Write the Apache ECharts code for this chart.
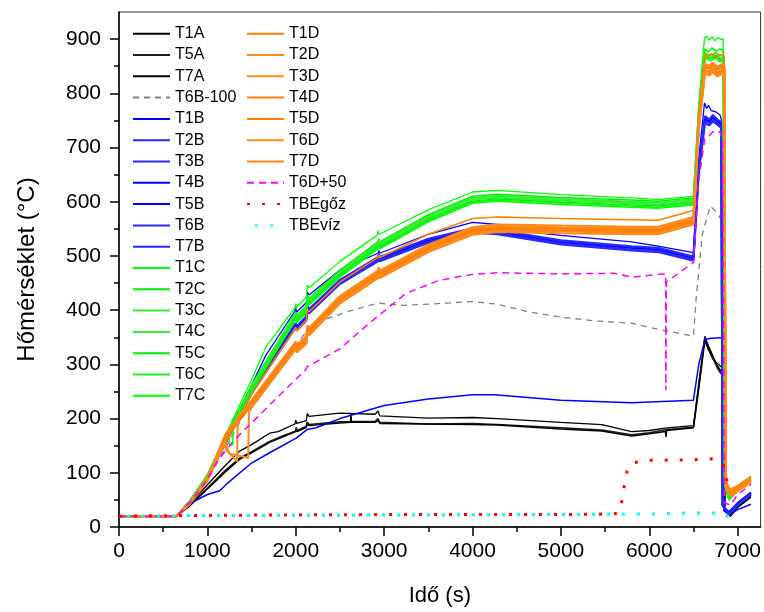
<!DOCTYPE html>
<html>
<head>
<meta charset="utf-8">
<script src="https://cdn.jsdelivr.net/npm/echarts@6/dist/echarts.min.js"></script>
<style>
html,body{margin:0;padding:0;background:#fff;}
#chart{width:764px;height:612px;}
</style>
</head>
<body>
<div id="chart"></div>
<script>
// ---- axis ticks ----
const xMajorTicks = [0,1000,2000,3000,4000,5000,6000,7000];
const xMinorTicks = [500,1500,2500,3500,4500,5500,6500];
const yMajorTicks = [0,100,200,300,400,500,600,700,800,900];
const yMinorTicks = [50,150,250,350,450,550,650,750,850];

// ---- series data: [time (s), temperature (°C)] ----
const T1A = [[0,20],[650,20],[800,42],[1000,78],[1200,113],[1365,140],[1500,152],[1704,173],[1800,176],[1990,190],[2000,197],[2010,191],[2120,196],[2130,209],[2150,204],[2494,210],[2900,208],[2930,214],[2950,205],[3500,201],[4000,202],[4280,200],[5000,193],[5464,189],[5800,176],[6000,178],[6200,183],[6500,187],[6560,265],[6625,346],[6660,330],[6720,310],[6780,300],[6840,292],[6860,30],[6920,22],[7000,42],[7150,63]];
const T5A = [[0,20],[650,20],[800,40],[1000,72],[1200,104],[1365,127],[1500,139],[1704,158],[1850,168],[2000,177],[2005,184],[2015,178],[2120,186],[2130,194],[2150,189],[2494,194],[2900,195],[2930,200],[2950,193],[3500,190],[4000,191],[4280,189],[5000,183],[5464,179],[5800,170],[6000,174],[6200,180],[6500,184],[6560,260],[6630,352],[6700,318],[6780,290],[6830,279],[6850,30],[6920,20],[7000,38],[7150,57]];
const T7A = [[0,20],[650,20],[800,39],[1000,70],[1200,101],[1365,125],[1500,137],[1704,156],[2000,176],[2005,182],[2015,176],[2120,184],[2130,191],[2150,187],[2494,192],[2620,193],[2625,208],[2630,193],[2900,193],[2930,197],[2950,191],[4000,189],[4280,188],[5000,181],[5464,177],[5800,168],[6000,172],[6185,176],[6190,166],[6195,178],[6500,183],[6560,255],[6630,345],[6680,330],[6760,300],[6830,283],[6850,30],[6920,21],[7000,36],[7150,55]];
const T6B_100 = [[0,20],[650,20],[1000,86],[1500,232],[2000,336],[2130,362],[2300,381],[2600,398],[2930,413],[3200,409],[3600,412],[4000,416],[4280,411],[4600,398],[5000,387],[5400,380],[5800,376],[6000,368],[6500,352],[6530,420],[6600,540],[6690,592],[6740,584],[6790,574],[6830,560],[6850,40],[6920,25],[7000,40],[7150,60]];
const T1B = [[0,20],[650,20],[800,48],[1000,95],[1500,262],[1666,318],[1990,398],[2000,404],[2010,396],[2120,414],[2130,434],[2150,428],[2500,474],[2930,505],[2940,510],[2950,505],[3500,540],[4000,562],[4280,558],[4600,545],[5000,538],[5800,526],[6100,518],[6500,506],[6560,680],[6625,782],[6650,772],[6670,778],[6700,768],[6750,766],[6800,760],[6815,752],[6830,40],[6900,28],[7000,45],[7150,63]];
const T2B = [[0,20],[650,20],[800,47],[1000,94],[1500,254],[2000,376],[2010,370],[2120,389],[2130,408],[2150,402],[2500,456],[2930,498],[2940,504],[2950,498],[3500,532],[4000,551],[4280,548],[5000,529],[5800,518],[6100,515],[6500,499],[6560,665],[6630,758],[6680,752],[6720,760],[6770,752],[6815,746],[6830,40],[6900,26],[7000,44],[7150,64]];
const T3B = [[0,20],[650,20],[800,46],[1000,93],[1500,252],[2000,374],[2010,368],[2120,387],[2130,406],[2150,400],[2500,454],[2930,496],[2940,502],[2950,496],[3500,530],[4000,549],[4280,546],[5000,527],[5800,516],[6100,513],[6500,497],[6560,662],[6630,754],[6680,750],[6720,757],[6770,750],[6815,744],[6830,40],[6900,25],[7000,42],[7150,62]];
const T4B = [[0,20],[650,20],[801,43],[1000,60],[1140,67],[1215,79],[1500,118],[1704,137],[2005,164],[2010,166],[2130,180],[2231,183],[2500,200],[3000,224],[3500,236],[4000,244],[4250,244],[5000,234],[5800,229],[6500,234],[6560,300],[6630,346],[6700,348],[6800,349],[6835,349],[6845,30],[6920,24],[7000,32],[7150,42]];
const T5B = [[0,20],[650,20],[800,46],[1000,92],[1500,250],[2000,372],[2010,366],[2120,385],[2130,404],[2150,398],[2500,452],[2930,494],[2940,500],[2950,494],[3500,528],[4000,547],[4280,544],[5000,525],[5800,514],[6100,511],[6500,495],[6560,660],[6630,752],[6680,748],[6720,755],[6770,748],[6815,742],[6830,40],[6900,25],[7000,42],[7150,62]];
const T6B = [[0,20],[650,20],[800,45],[1000,91],[1500,248],[2000,370],[2010,364],[2120,383],[2130,402],[2150,396],[2500,450],[2930,492],[2940,498],[2950,492],[3500,526],[4000,545],[4280,542],[5000,523],[5800,512],[6100,509],[6500,493],[6560,657],[6630,748],[6680,745],[6720,751],[6770,745],[6815,739],[6830,40],[6900,24],[7000,40],[7150,60]];
const T7B = [[0,20],[650,20],[800,45],[1000,90],[1500,246],[2000,368],[2010,362],[2120,381],[2130,400],[2150,394],[2500,448],[2930,490],[2940,496],[2950,490],[3500,524],[4000,543],[4280,540],[5000,521],[5800,510],[6100,507],[6500,491],[6560,655],[6630,744],[6680,741],[6720,748],[6770,742],[6815,736],[6830,40],[6900,24],[7000,40],[7150,60]];
const T1C = [[0,20],[650,20],[800,48],[1000,97],[1064,120],[1500,272],[1666,333],[1990,404],[2000,412],[2010,405],[2120,425],[2130,446],[2150,441],[2500,490],[2920,538],[2930,546],[2945,540],[3500,585],[4000,618],[4280,621],[5000,613],[5800,607],[6100,604],[6500,610],[6560,780],[6625,902],[6650,905],[6680,898],[6710,904],[6740,897],[6780,903],[6810,899],[6835,901],[6850,90],[6900,62],[6950,66],[7050,80],[7150,93]];
const T2C = [[0,20],[650,20],[800,47],[1000,95],[1500,262],[2000,396],[2010,390],[2120,408],[2130,427],[2150,422],[2500,474],[2930,526],[2940,532],[2950,526],[3500,576],[4000,610],[4280,614],[5000,608],[5800,603],[6100,601],[6500,607],[6560,770],[6630,882],[6670,876],[6710,884],[6760,878],[6800,882],[6840,878],[6855,85],[6900,58],[6950,66],[7050,82],[7150,94]];
const T3C = [[0,20],[650,20],[800,46],[1000,93],[1500,259],[2000,393],[2010,387],[2120,405],[2130,424],[2150,419],[2500,471],[2930,523],[2940,529],[2950,523],[3500,573],[4000,607],[4280,611],[5000,605],[5800,600],[6100,598],[6500,604],[6560,765],[6630,873],[6700,870],[6750,875],[6800,869],[6840,871],[6855,82],[6900,56],[6950,64],[7050,80],[7150,92]];
const T4C = [[0,20],[650,20],[800,46],[1000,92],[1500,256],[2000,390],[2010,384],[2120,402],[2130,421],[2150,416],[2500,468],[2930,520],[2940,526],[2950,520],[3500,570],[4000,604],[4280,608],[5000,602],[5800,597],[6100,595],[6500,601],[6560,760],[6630,870],[6700,866],[6750,870],[6800,864],[6840,866],[6855,80],[6900,55],[6950,62],[7050,78],[7150,90]];
const T5C = [[0,20],[650,20],[800,45],[1000,91],[1500,253],[2000,387],[2010,381],[2120,399],[2130,418],[2150,413],[2500,465],[2930,517],[2940,523],[2950,517],[3500,567],[4000,601],[4280,605],[5000,599],[5800,594],[6100,592],[6500,598],[6560,757],[6630,867],[6700,863],[6750,868],[6800,861],[6840,863],[6855,78],[6900,52],[6950,60],[7050,76],[7150,88]];
const T6C = [[0,20],[650,20],[800,45],[1000,90],[1500,251],[2000,385],[2010,379],[2120,397],[2130,416],[2150,411],[2500,463],[2930,515],[2940,521],[2950,515],[3500,565],[4000,599],[4280,603],[5000,597],[5800,592],[6100,590],[6500,596],[6560,755],[6630,864],[6700,860],[6750,865],[6800,858],[6840,860],[6855,76],[6900,50],[6950,58],[7050,74],[7150,86]];
const T7C = [[0,20],[650,20],[800,45],[1000,90],[1240,178],[1250,150],[1288,152],[1292,200],[1500,249],[2000,383],[2010,377],[2120,395],[2130,414],[2150,409],[2500,461],[2930,513],[2940,519],[2950,513],[3500,563],[4000,597],[4280,601],[5000,595],[5800,590],[6100,588],[6500,594],[6560,752],[6630,868],[6700,864],[6750,869],[6800,862],[6840,864],[6855,76],[6900,50],[6950,58],[7050,74],[7150,86]];
const T1D = [[0,20],[650,20],[800,45],[1000,92],[1500,245],[2000,368],[2010,362],[2120,382],[2130,402],[2150,397],[2500,452],[2930,497],[2940,502],[2950,497],[3500,540],[4000,569],[4280,572],[5000,569],[5800,567],[6100,566],[6500,584],[6560,760],[6630,872],[6660,868],[6700,874],[6750,866],[6800,872],[6845,868],[6860,88],[6910,70],[7000,75],[7150,90]];
const T2D = [[0,20],[650,20],[800,45],[1000,90],[1200,170],[1500,234],[2000,342],[2010,336],[2120,352],[2130,372],[2150,367],[2500,426],[2930,473],[2940,479],[2950,473],[3500,521],[4000,553],[4280,558],[5000,556],[5800,554],[6100,554],[6500,572],[6560,748],[6630,854],[6680,851],[6720,857],[6770,849],[6820,854],[6850,851],[6865,84],[6920,66],[7000,76],[7150,92]];
const T3D = [[0,20],[650,20],[800,44],[1000,89],[1200,167],[1500,231],[2000,339],[2010,333],[2120,349],[2130,369],[2150,364],[2500,423],[2930,470],[2940,476],[2950,470],[3500,518],[4000,550],[4280,555],[5000,553],[5800,551],[6100,551],[6500,569],[6560,744],[6630,851],[6680,848],[6720,854],[6770,846],[6820,851],[6850,848],[6865,82],[6920,64],[7000,74],[7150,90]];
const T4D = [[0,20],[650,20],[800,44],[1000,88],[1200,165],[1500,228],[2000,336],[2010,330],[2120,346],[2130,366],[2150,361],[2500,420],[2930,467],[2940,473],[2950,467],[3500,515],[4000,547],[4280,552],[5000,550],[5800,548],[6100,548],[6500,566],[6560,740],[6630,848],[6680,845],[6720,851],[6770,843],[6820,848],[6850,845],[6865,80],[6920,62],[7000,72],[7150,88]];
const T5D = [[0,20],[650,20],[800,43],[1000,87],[1200,162],[1500,225],[2000,333],[2010,327],[2120,343],[2130,363],[2150,358],[2500,417],[2930,464],[2940,470],[2950,464],[3500,512],[4000,544],[4280,549],[5000,547],[5800,545],[6100,545],[6500,563],[6560,737],[6630,843],[6680,840],[6720,846],[6770,838],[6820,843],[6850,840],[6865,78],[6920,60],[7000,70],[7150,86]];
const T6D = [[0,20],[650,20],[800,43],[1000,86],[1190,158],[1215,142],[1335,121],[1345,205],[1500,223],[2000,331],[2010,325],[2120,341],[2130,361],[2150,356],[2500,415],[2930,462],[2940,468],[2950,462],[3500,510],[4000,542],[4280,547],[5000,545],[5800,543],[6100,543],[6500,561],[6560,734],[6630,840],[6680,837],[6720,843],[6770,835],[6820,840],[6850,837],[6865,76],[6920,58],[7000,68],[7150,84]];
const T7D = [[0,20],[650,20],[800,42],[1000,85],[1200,155],[1250,135],[1400,130],[1462,127],[1470,212],[1500,220],[2000,328],[2010,322],[2120,338],[2130,358],[2150,353],[2500,412],[2930,459],[2940,465],[2950,459],[3500,507],[4000,539],[4280,544],[5000,542],[5800,540],[6100,540],[6500,558],[6560,730],[6630,836],[6680,833],[6720,839],[6770,831],[6820,836],[6850,833],[6865,74],[6920,56],[7000,66],[7150,82]];
const T6D_50 = [[0,20],[650,20],[800,44],[1000,88],[1100,118],[1290,158],[1500,192],[1704,225],[2118,291],[2130,296],[2494,328],[2833,376],[3247,431],[3623,455],[4000,466],[4280,469],[5000,467],[5600,468],[5800,461],[6185,467],[6188,252],[6193,452],[6500,488],[6560,640],[6630,718],[6680,722],[6720,729],[6770,726],[6800,730],[6830,712],[6850,45],[6920,40],[7000,60],[7150,78]];
const TBEgoz = [[0,20],[650,21],[1500,22],[3000,23],[5000,23],[5600,24],[5660,27],[5690,48],[5720,78],[5750,103],[5800,118],[6000,123],[6500,124],[6760,126],[6800,122],[6845,112],[6880,85],[6920,75]];
const TBEviz = [[0,20],[650,21],[3000,22],[5000,23],[6000,24],[6500,26],[6830,26],[6870,20],[6990,22]];

const FONT = 'Liberation Sans, Arial, sans-serif';

function ln(name, data, color, width, type, dashOffset) {
  return {
    name: name, type: 'line', data: data, symbol: 'none', showSymbol: false,
    animation: false, silent: true,
    lineStyle: { color: color, width: width, type: type || 'solid', cap: 'butt', dashOffset: dashOffset || 0 },
    itemStyle: { color: color }
  };
}

const series = [
  ln('T1A', T1A, '#000000', 1.3),
  ln('T5A', T5A, '#202020', 1.5),
  ln('T7A', T7A, '#000000', 1.5),
  ln('T6B-100', T6B_100, '#808080', 1.3, [6, 5]),
  ln('T1B', T1B, '#0000ff', 1.3),
  ln('T2B', T2B, '#2a2aff', 2),
  ln('T3B', T3B, '#2a2aff', 2),
  ln('T4B', T4B, '#0000ff', 1.5),
  ln('T5B', T5B, '#0000ff', 1.5),
  ln('T6B', T6B, '#2a2aff', 2),
  ln('T7B', T7B, '#2a2aff', 2),
  ln('T1C', T1C, '#00ff00', 1.3),
  ln('T2C', T2C, '#00ee00', 1.5),
  ln('T3C', T3C, '#33ee33', 2),
  ln('T4C', T4C, '#33ee33', 2),
  ln('T5C', T5C, '#00ee00', 1.5),
  ln('T6C', T6C, '#22ee22', 1.5),
  ln('T7C', T7C, '#00ff00', 1.5),
  ln('T1D', T1D, '#ff8000', 1.5),
  ln('T2D', T2D, '#ff8a1c', 2),
  ln('T3D', T3D, '#ff8a1c', 2),
  ln('T4D', T4D, '#ff7f00', 2),
  ln('T5D', T5D, '#ff8000', 2),
  ln('T6D', T6D, '#ff8a1c', 2),
  ln('T7D', T7D, '#ff8a1c', 2),
  ln('T6D+50', T6D_50, '#ff00ff', 1.5, [7, 5]),
  ln('TBEgőz', TBEgoz, '#ff0000', 3, [3, 12]),
  ln('TBEvíz', TBEviz, '#00ffff', 3, [3, 12], 7)
];

const legendCol1 = ['T1A','T5A','T7A','T6B-100','T1B','T2B','T3B','T4B','T5B','T6B','T7B','T1C','T2C','T3C','T4C','T5C','T6C','T7C'];
const legendCol2 = ['T1D','T2D','T3D','T4D','T5D','T6D','T7D','T6D+50','TBEgőz','TBEvíz'];

function legend(data, left) {
  return {
    data: data, orient: 'vertical', left: left, top: 25.7,
    itemWidth: 37, itemHeight: 16, itemGap: 5.3, padding: 0,
    selectedMode: false,
    itemStyle: { opacity: 0 },
    textStyle: { fontFamily: FONT, fontSize: 16, color: '#000' }
  };
}

const chart = echarts.init(document.getElementById('chart'), null, { renderer: 'canvas' });
chart.setOption({
  backgroundColor: '#ffffff',
  animation: false,
  textStyle: { fontFamily: FONT },
  grid: { left: 119, right: 1.5, top: 12, bottom: 78.5, show: true, borderColor: '#333333', borderWidth: 1, backgroundColor: 'transparent' },
  legend: [legend(legendCol1, 132), legend(legendCol2, 246)],
  xAxis: [{
    type: 'value', min: 0, max: 7260,
    name: 'Idő (s)', nameLocation: 'middle', nameGap: 58,
    nameTextStyle: { fontFamily: FONT, fontSize: 22, color: '#000' },
    axisLine: { show: true, onZero: false, lineStyle: { color: '#000', width: 1.5 } },
    axisTick: { show: true, inside: false, length: 9, customValues: xMajorTicks, lineStyle: { color: '#000', width: 1.5 } },
    axisLabel: { margin: 14, customValues: xMajorTicks, formatter: function (v) { return String(v); }, fontFamily: FONT, fontSize: 21, color: '#000' },
    splitLine: { show: false }
  }, {
    type: 'value', min: 0, max: 7260, position: 'bottom', gridIndex: 0,
    axisLine: { show: false },
    axisTick: { show: true, inside: false, length: 5, customValues: xMinorTicks, lineStyle: { color: '#000', width: 1.5 } },
    axisLabel: { show: false },
    splitLine: { show: false }
  }],
  yAxis: [{
    type: 'value', min: 0, max: 950,
    name: 'Hőmérséklet (°C)', nameLocation: 'middle', nameGap: 80,
    nameTextStyle: { fontFamily: FONT, fontSize: 24, color: '#000' },
    axisLine: { show: true, onZero: false, lineStyle: { color: '#000', width: 1.5 } },
    axisTick: { show: true, inside: false, length: 9, customValues: yMajorTicks, lineStyle: { color: '#000', width: 1.5 } },
    axisLabel: { margin: 18, customValues: yMajorTicks, formatter: function (v) { return String(v); }, fontFamily: FONT, fontSize: 21, color: '#000' },
    splitLine: { show: false }
  }, {
    type: 'value', min: 0, max: 950, position: 'left', gridIndex: 0,
    axisLine: { show: false },
    axisTick: { show: true, inside: false, length: 5, customValues: yMinorTicks, lineStyle: { color: '#000', width: 1.5 } },
    axisLabel: { show: false },
    splitLine: { show: false }
  }],
  series: series
});
</script>
</body>
</html>
